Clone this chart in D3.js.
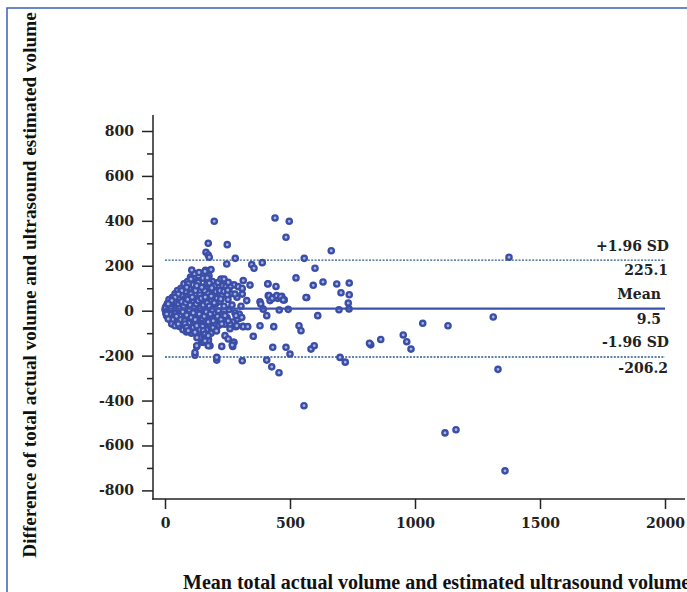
<!DOCTYPE html>
<html>
<head>
<meta charset="utf-8">
<script src="https://cdn.jsdelivr.net/npm/d3@7"></script>
<style>
  html, body { margin: 0; padding: 0; background: #fff; }
  svg { display: block; }
</style>
</head>
<body>
<svg id="chart" width="687" height="592"></svg>
<script>
// ---- data ----
const xTicks = [0, 500, 1000, 1500, 2000];
const yTicks = [-800, -600, -400, -200, 0, 200, 400, 600, 800];
const yMinorTicks = [-700, -500, -300, -100, 100, 300, 500, 700];

const meanDiff = 9.5;
const upperLoA = 225.1;
const lowerLoA = -206.2;

const limitLabels = ["+1.96 SD", "225.1", "Mean", "9.5", "-1.96 SD", "-206.2"];

// mean of the two measurements (x) and their difference (y)
const meanVolume = [
  // dense cluster
  0,3,5,8,10,12,14,15,18,20,22,24,25,28,30,32,34,35,38,40,42,44,45,48,50,52,55,56,58,60,
  62,64,66,68,70,72,74,76,78,80,82,84,86,88,90,92,94,96,98,100,102,104,106,108,110,112,114,116,118,120,
  122,124,126,128,130,132,134,136,138,140,142,144,146,148,150,152,154,156,158,160,162,164,166,168,170,172,174,176,178,180,
  182,184,186,188,190,192,194,196,198,200,202,204,206,208,210,212,214,216,218,220,224,228,232,236,240,244,248,252,256,260,
  264,268,272,276,280,288,296,304,312,
  46,54,58,63,67,71,75,79,83,87,91,95,97,101,105,109,113,117,121,125,129,133,137,141,145,149,153,157,161,165,
  169,173,177,181,185,189,193,197,30,36,16,6,2,9,19,23,
  // cluster edges
  80,87,100,113,127,140,153,160,167,173,180,153,127,120,207,227,271,276,227,260,284,289,297,284,240,253,
  104,93,87,133,127,147,67,53,40,27,13,7,13,27,40,53,87,93,120,173,160,173,127,120,240,253,207,
  169,177,187,224,236,231,244,260,220,236,249,223,
  // scattered points
  197,440,497,484,173,249,164,173,177,281,557,665,247,347,356,389,107,160,184,600,524,412,444,593,632,313,293,309,340,253,251,
  280,309,413,420,451,467,477,433,567,327,380,383,393,457,493,407,611,307,287,313,331,380,435,536,544,353,273,269,431,484,
  500,584,597,309,407,427,456,564,416,429,447,463,473,411,
  687,737,704,737,733,696,736,823,818,863,953,967,984,1031,1132,700,721,1376,1313,1332,1120,1164,1360,556
];
const difference = [
  // dense cluster
  5,-10,20,-25,10,35,-5,-35,25,0,45,-45,15,-20,60,30,-55,5,-30,75,45,-10,-65,20,90,-40,55,0,-70,35,
  -20,100,70,-55,15,-85,45,120,-30,-60,85,5,-95,60,130,-15,-75,30,100,-45,150,75,-100,10,-65,115,40,-25,165,-85,
  90,-5,55,-120,135,20,-50,170,-95,70,-30,105,-140,40,-70,145,0,-110,90,-45,180,25,-85,120,-20,60,-130,155,-60,10,
  95,-100,45,-35,130,-75,75,-10,110,-55,30,85,-90,55,-25,125,0,-65,90,40,-40,70,-15,20,-60,100,-30,50,5,-80,
  75,25,-50,115,-10,60,-35,20,-70,
  -25,30,10,-40,40,-5,20,-45,35,-20,50,-55,5,25,-30,60,-10,15,-40,30,-60,45,-15,10,55,-35,25,-25,60,-5,
  35,-50,20,-15,65,5,-45,35,-40,40,50,-20,15,30,-15,10,
  // cluster edges
  -59,-82,-89,-74,-67,-86,-89,-104,-119,-134,-156,-141,-159,-198,-220,-159,-159,-141,-59,-59,-71,-37,-15,-22,-22,-45,
  141,119,104,126,111,104,89,74,59,45,30,-15,-37,-59,-67,-59,-74,-89,-96,-111,-134,-156,-156,-186,-111,-126,-208,
  146,123,101,141,141,111,107,107,89,86,71,52,
  // scattered points
  398,413,398,327,300,294,260,248,238,233,233,267,208,205,189,214,181,175,183,189,146,120,108,113,128,134,107,99,114,126,92,
  74,74,67,45,55,64,48,57,59,45,40,30,7,3,6,-22,-22,-30,-67,-71,-71,-67,-71,-67,-89,-114,-141,-153,-163,-163,
  -193,-171,-156,-223,-220,-250,-276,59,67,55,67,62,48,119,
  119,123,80,71,34,4,8,-152,-145,-128,-108,-138,-171,-56,-67,-208,-229,238,-28,-261,-544,-530,-713,-423
];

// ---- drawing ----
const svg = d3.select("#chart");
const FONT_TICK = "'DejaVu Serif', serif";
const FONT_TITLE = "'Liberation Serif', 'Times New Roman', serif";
const plainNum = d => String(d);

// frame border of the figure
svg.append("path")
  .attr("d", "M7,592 L7,8 L687,8")
  .attr("fill", "none")
  .attr("stroke", "#3b62b3")
  .attr("stroke-width", 1.5);

const x = d3.scaleLinear().domain([0, 2000]).range([165, 665]);
const y = d3.scaleLinear().domain([-800, 800]).range([490.4, 131]);

const axisX0 = 153;   // y-axis line position
const axisY0 = 499;   // x-axis line position
const axisColor = "#222";

// y axis (major)
const gy = svg.append("g").attr("transform", `translate(${axisX0},0)`)
  .call(d3.axisLeft(y).tickValues(yTicks).tickSize(11).tickPadding(8).tickFormat(plainNum));
gy.select(".domain").remove();
gy.selectAll(".tick line").attr("stroke", axisColor).attr("stroke-width", 1.5);
gy.selectAll(".tick text")
  .attr("font-family", FONT_TICK).attr("font-weight", "bold")
  .attr("font-size", 14).attr("fill", "#222");

// y axis (minor)
const gym = svg.append("g").attr("transform", `translate(${axisX0},0)`)
  .call(d3.axisLeft(y).tickValues(yMinorTicks).tickSize(6).tickFormat(""));
gym.select(".domain").remove();
gym.selectAll(".tick line").attr("stroke", axisColor).attr("stroke-width", 1.5);

// x axis
const gx = svg.append("g").attr("transform", `translate(0,${axisY0})`)
  .call(d3.axisBottom(x).tickValues(xTicks).tickSize(10).tickPadding(9).tickFormat(plainNum));
gx.select(".domain").remove();
gx.selectAll(".tick line").attr("stroke", axisColor).attr("stroke-width", 1.5);
gx.selectAll(".tick text")
  .attr("font-family", FONT_TICK).attr("font-weight", "bold")
  .attr("font-size", 14).attr("fill", "#222");

// axis lines
svg.append("line").attr("x1", axisX0).attr("x2", axisX0).attr("y1", 115).attr("y2", axisY0 + 0.75)
  .attr("stroke", axisColor).attr("stroke-width", 1.5);
svg.append("line").attr("x1", axisX0 - 0.75).attr("x2", 685).attr("y1", axisY0).attr("y2", axisY0)
  .attr("stroke", axisColor).attr("stroke-width", 1.5);

// limits of agreement lines
const lineColor = "#2b5a8c";
[upperLoA, lowerLoA].forEach(v => {
  svg.append("line")
    .attr("x1", x(0)).attr("x2", x(2000))
    .attr("y1", y(v)).attr("y2", y(v))
    .attr("stroke", lineColor).attr("stroke-width", 1.4)
    .attr("stroke-dasharray", "2,1.4");
});

// points
const pts = meanVolume.map((m, i) => ({ m, d: difference[i] }));
svg.append("g").selectAll("circle").data(pts).join("circle")
  .attr("cx", p => x(p.m))
  .attr("cy", p => y(p.d))
  .attr("r", 2.6)
  .attr("fill", "#a9b3e0")
  .attr("stroke", "#3a4ea8")
  .attr("stroke-width", 2.4);

// mean line
svg.append("line")
  .attr("x1", x(0)).attr("x2", x(2000))
  .attr("y1", y(meanDiff)).attr("y2", y(meanDiff))
  .attr("stroke", "#3d52aa").attr("stroke-width", 2.2);

// labels of the lines
const labelStyle = t => t.attr("font-family", FONT_TICK).attr("font-weight", "bold")
  .attr("font-size", 14).attr("fill", "#222").attr("text-anchor", "end");
const labelDefs = [
  { t: limitLabels[0], v: upperLoA, dy: -9, xr: 669 },
  { t: limitLabels[1], v: upperLoA, dy: 15, xr: 668 },
  { t: limitLabels[2], v: meanDiff, dy: -10, xr: 661 },
  { t: limitLabels[3], v: meanDiff, dy: 15.5, xr: 661 },
  { t: limitLabels[4], v: lowerLoA, dy: -10, xr: 669 },
  { t: limitLabels[5], v: lowerLoA, dy: 15.5, xr: 668 }
];
labelDefs.forEach(l => {
  svg.append("text").text(l.t).attr("x", l.xr).attr("y", y(l.v) + l.dy).call(labelStyle);
});

// axis titles
svg.append("text")
  .text("Difference of total actual volume and ultrasound estimated volume")
  .attr("transform", "translate(36,285) rotate(-90)")
  .attr("text-anchor", "middle")
  .attr("font-family", FONT_TITLE).attr("font-weight", "bold")
  .attr("font-size", 19.2).attr("fill", "#111");

svg.append("text")
  .text("Mean total actual volume and estimated ultrasound volume")
  .attr("x", 183).attr("y", 589)
  .attr("font-family", FONT_TITLE).attr("font-weight", "bold")
  .attr("font-size", 20).attr("fill", "#111");
</script>
</body>
</html>
